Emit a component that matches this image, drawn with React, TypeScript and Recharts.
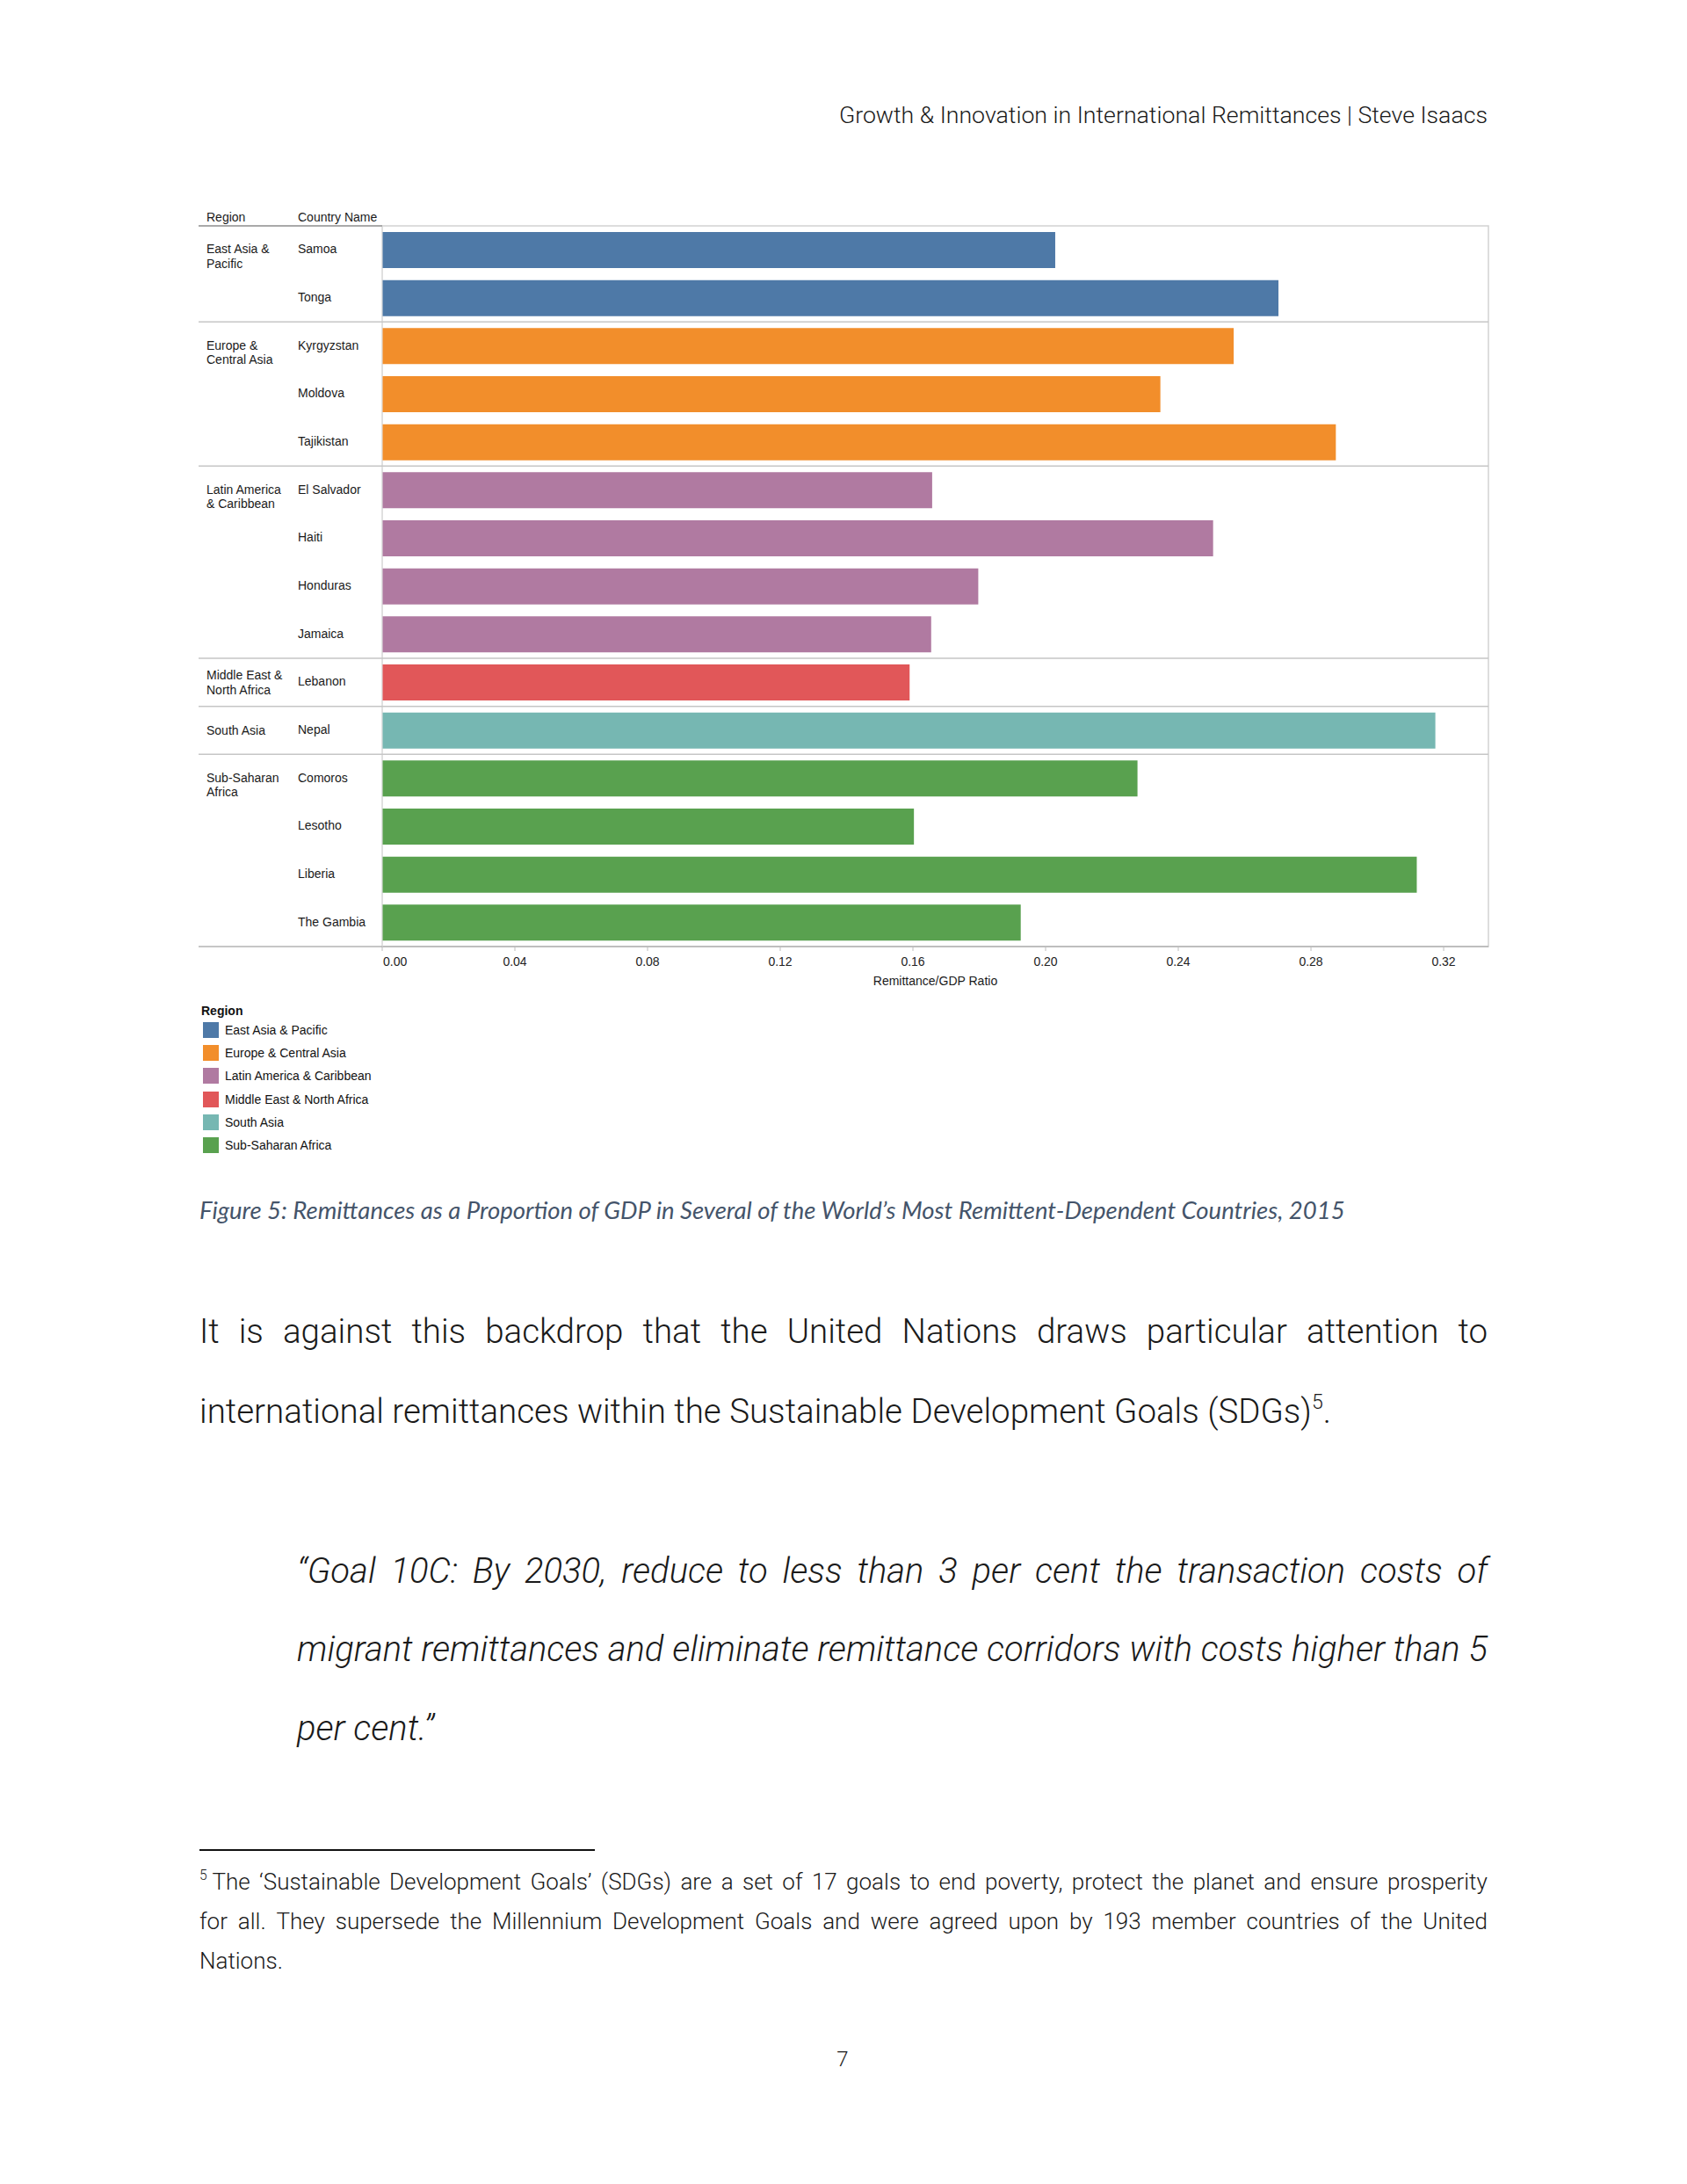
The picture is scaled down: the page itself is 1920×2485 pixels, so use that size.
import React from 'react';
import { BarChart, Bar, XAxis, YAxis, Cell, Legend, ReferenceArea } from 'recharts';

// Remittance/GDP ratio, 2015
const countries = [
  'Samoa', 'Tonga', 'Kyrgyzstan', 'Moldova', 'Tajikistan', 'El Salvador', 'Haiti', 'Honduras',
  'Jamaica', 'Lebanon', 'Nepal', 'Comoros', 'Lesotho', 'Liberia', 'The Gambia',
];
const countryRegion = [
  'East Asia & Pacific', 'East Asia & Pacific',
  'Europe & Central Asia', 'Europe & Central Asia', 'Europe & Central Asia',
  'Latin America & Caribbean', 'Latin America & Caribbean', 'Latin America & Caribbean', 'Latin America & Caribbean',
  'Middle East & North Africa',
  'South Asia',
  'Sub-Saharan Africa', 'Sub-Saharan Africa', 'Sub-Saharan Africa', 'Sub-Saharan Africa',
];
const ratios = [0.2029, 0.2702, 0.2567, 0.2346, 0.2875, 0.1658, 0.2505, 0.1797, 0.1655, 0.159, 0.3175, 0.2277, 0.1603, 0.3119, 0.1925];

const regions = [
  'East Asia & Pacific', 'Europe & Central Asia', 'Latin America & Caribbean',
  'Middle East & North Africa', 'South Asia', 'Sub-Saharan Africa',
];
const regionLabelLines = [
  ['East Asia &', 'Pacific'],
  ['Europe &', 'Central Asia'],
  ['Latin America', '& Caribbean'],
  ['Middle East &', 'North Africa'],
  ['South Asia'],
  ['Sub-Saharan', 'Africa'],
];
const regionColors = ['#4e79a7', '#f28e2b', '#b07aa1', '#e15759', '#76b7b2', '#59a14f'];
const xTicks = [0, 0.04, 0.08, 0.12, 0.16, 0.2, 0.24, 0.28, 0.32];
const X_MAX = 0.3335;

const data = countries.map((country, i) => ({ country, region: countryRegion[i], ratio: ratios[i] }));

const FONT = '"Liberation Sans", Arial, Helvetica, sans-serif';
const PAGE_FONT = 'Roboto, "Liberation Sans", sans-serif';
const LABEL_W = 209;
const PLOT_W = 1259;
const ROW_H = 820 / countries.length;
const LINE_H = 16.7;

function CountryTick(props: any) {
  const { x, y, payload } = props;
  const i = countries.indexOf(payload.value);
  const half = payload.offset || ROW_H / 2;
  const region = countryRegion[i];
  const isFirst = i === 0 || countryRegion[i - 1] !== region;
  const isLast = i === countries.length - 1;
  const groupSize = countryRegion.filter((r) => r === region).length;
  const lines = regionLabelLines[regions.indexOf(region)];
  const left = x - LABEL_W;
  const firstY = groupSize === 1 ? y - ((lines.length - 1) * LINE_H) / 2 : y - 1;
  return (
    <g>
      {i === 0 && <line x1={left} x2={x} y1={y - half} y2={y - half} stroke="#a9a9a9" strokeWidth={2} />}
      {isFirst && i > 0 && (
        <line x1={left} x2={x + PLOT_W} y1={y - half} y2={y - half} stroke="#c6c6c6" strokeWidth={1.5} />
      )}
      {isLast && <line x1={left} x2={x} y1={y + half} y2={y + half} stroke="#b3b3b3" strokeWidth={1.5} />}
      {isFirst &&
        lines.map((t, k) => (
          <text key={k} x={left + 9} y={firstY + k * LINE_H} dy="0.35em" fontFamily={FONT} fontSize={14} fill="#1a1a1a">
            {t}
          </text>
        ))}
      <text x={left + 113} y={y - 1} dy="0.35em" fontFamily={FONT} fontSize={14} fill="#1a1a1a">
        {payload.value}
      </text>
    </g>
  );
}

function XTick(props: any) {
  const { x, y, payload } = props;
  const first = Number(payload.value) === 0;
  return (
    <text
      x={first ? x + 1 : x}
      y={y}
      dy="0.78em"
      textAnchor={first ? 'start' : 'middle'}
      fontFamily={FONT}
      fontSize={14}
      fill="#222"
    >
      {Number(payload.value).toFixed(2)}
    </text>
  );
}

function RegionLegend() {
  return (
    <div style={{ fontFamily: FONT, fontSize: 14, color: '#111' }}>
      <div style={{ fontWeight: 'bold', lineHeight: '17px', marginLeft: -2 }}>Region</div>
      {regions.map((r, i) => (
        <div key={r} style={{ display: 'flex', alignItems: 'center', height: 26.2 }}>
          <span style={{ display: 'inline-block', width: 18, height: 18, background: regionColors[i], marginRight: 7 }} />
          <span>{r}</span>
        </div>
      ))}
    </div>
  );
}

function JustifiedLine({ words, left, width, center, size, lh, italic }: any) {
  return (
    <div
      style={{
        position: 'absolute', left, width, top: center - lh / 2, height: lh, lineHeight: lh + 'px',
        display: 'flex', justifyContent: 'space-between', whiteSpace: 'nowrap',
        fontFamily: PAGE_FONT, fontWeight: 300, fontSize: size, fontStyle: italic ? 'italic' : 'normal', color: '#1a1a1a',
      }}
    >
      {words.map((w: any, k: number) => <span key={k}>{w}</span>)}
    </div>
  );
}

function PlainLine({ children, left, center, size, lh, italic }: any) {
  return (
    <div
      style={{
        position: 'absolute', left, top: center - lh / 2, lineHeight: lh + 'px', whiteSpace: 'nowrap',
        fontFamily: PAGE_FONT, fontWeight: 300, fontSize: size, fontStyle: italic ? 'italic' : 'normal', color: '#1a1a1a',
      }}
    >
      {children}
    </div>
  );
}

const sup = (n: string) => <sup style={{ fontSize: '0.6em', lineHeight: 0, verticalAlign: '0.7em' }}>{n}</sup>;

export default function App() {
  return (
    <div style={{ position: 'absolute', left: 0, top: 0, width: 1920, height: 2485, background: '#fff', overflow: 'hidden' }}>
      <div
        style={{
          position: 'absolute', left: 0, width: 1693, top: 117, lineHeight: '28px', textAlign: 'right',
          fontFamily: PAGE_FONT, fontWeight: 300, fontSize: 26.7, color: '#1a1a1a',
        }}
      >
        Growth &amp; Innovation in International Remittances | Steve Isaacs
      </div>

      <div style={{ position: 'absolute', left: 235, top: 239, fontFamily: FONT, fontSize: 14, lineHeight: '16px', color: '#1a1a1a' }}>Region</div>
      <div style={{ position: 'absolute', left: 339, top: 239, fontFamily: FONT, fontSize: 14, lineHeight: '16px', color: '#1a1a1a' }}>Country Name</div>

      <div style={{ position: 'absolute', left: 220, top: 230 }}>
        <BarChart
          width={1490}
          height={1110}
          data={data}
          layout="vertical"
          margin={{ top: 27, right: 16, bottom: 213, left: 6 }}
        >
          <ReferenceArea x1={0} x2={X_MAX} fill="none" stroke="#d2d2d2" strokeWidth={1.5} ifOverflow="visible" />
          <XAxis
            type="number"
            domain={[0, X_MAX]}
            ticks={xTicks}
            allowDataOverflow
            height={50}
            tickSize={5}
            tickMargin={6}
            tickLine={{ stroke: '#bdbdbd' }}
            axisLine={{ stroke: '#b3b3b3', strokeWidth: 1.5 }}
            tick={(p: any) => <XTick {...p} />}
            label={{
              value: 'Remittance/GDP Ratio',
              position: 'insideBottom',
              offset: 6,
              style: { fontFamily: FONT, fontSize: 14, fill: '#1a1a1a' },
            }}
          />
          <YAxis
            type="category"
            dataKey="country"
            width={LABEL_W}
            interval={0}
            tickSize={0}
            tickMargin={0}
            tickLine={false}
            axisLine={{ stroke: '#e4e4e4' }}
            tick={(p: any) => <CountryTick {...p} />}
          />
          <Bar dataKey="ratio" barSize={41} isAnimationActive={false}>
            {data.map((d, i) => (
              <Cell key={i} fill={regionColors[regions.indexOf(d.region)]} />
            ))}
          </Bar>
          <Legend
            layout="vertical"
            align="center"
            verticalAlign="middle"
            wrapperStyle={{ left: 11, top: 912, width: 320 }}
            content={() => <RegionLegend />}
          />
        </BarChart>
      </div>

      <div
        style={{
          position: 'absolute', left: 227, top: 1362, lineHeight: '30px', whiteSpace: 'nowrap',
          fontFamily: 'Lato, "Open Sans", sans-serif', fontStyle: 'italic', fontSize: 27.5, color: '#44546a',
        }}
      >
        Figure 5: Remittances as a Proportion of GDP in Several of the World’s Most Remittent-Dependent Countries, 2015
      </div>

      <JustifiedLine
        left={227} width={1466} center={1515} size={38.5} lh={60}
        words={'It is against this backdrop that the United Nations draws particular attention to'.split(' ')}
      />
      <PlainLine left={227} center={1606} size={38.5} lh={60}>
        international remittances within the Sustainable Development Goals (SDGs){sup('5')}.
      </PlainLine>

      <JustifiedLine
        left={338} width={1355} center={1788} size={40} lh={60} italic
        words={'“Goal 10C: By 2030, reduce to less than 3 per cent the transaction costs of'.split(' ')}
      />
      <JustifiedLine
        left={338} width={1355} center={1877} size={40} lh={60} italic
        words={'migrant remittances and eliminate remittance corridors with costs higher than 5'.split(' ')}
      />
      <PlainLine left={338} center={1967} size={40} lh={60} italic>
        per cent.”
      </PlainLine>

      <div style={{ position: 'absolute', left: 227, top: 2104, width: 450, height: 2, background: '#111' }} />

      <JustifiedLine
        left={227} width={1466} center={2141} size={26} lh={36}
        words={[<>{sup('5')} The</>, ...'‘Sustainable Development Goals’ (SDGs) are a set of 17 goals to end poverty, protect the planet and ensure prosperity'.split(' ')]}
      />
      <JustifiedLine
        left={227} width={1466} center={2186} size={26} lh={36}
        words={'for all. They supersede the Millennium Development Goals and were agreed upon by 193 member countries of the United'.split(' ')}
      />
      <PlainLine left={227} center={2231} size={26} lh={36}>
        Nations.
      </PlainLine>

      <div
        style={{
          position: 'absolute', left: 909, width: 100, top: 2328, lineHeight: '30px', textAlign: 'center',
          fontFamily: PAGE_FONT, fontWeight: 300, fontSize: 24, color: '#1a1a1a',
        }}
      >
        7
      </div>
    </div>
  );
}
